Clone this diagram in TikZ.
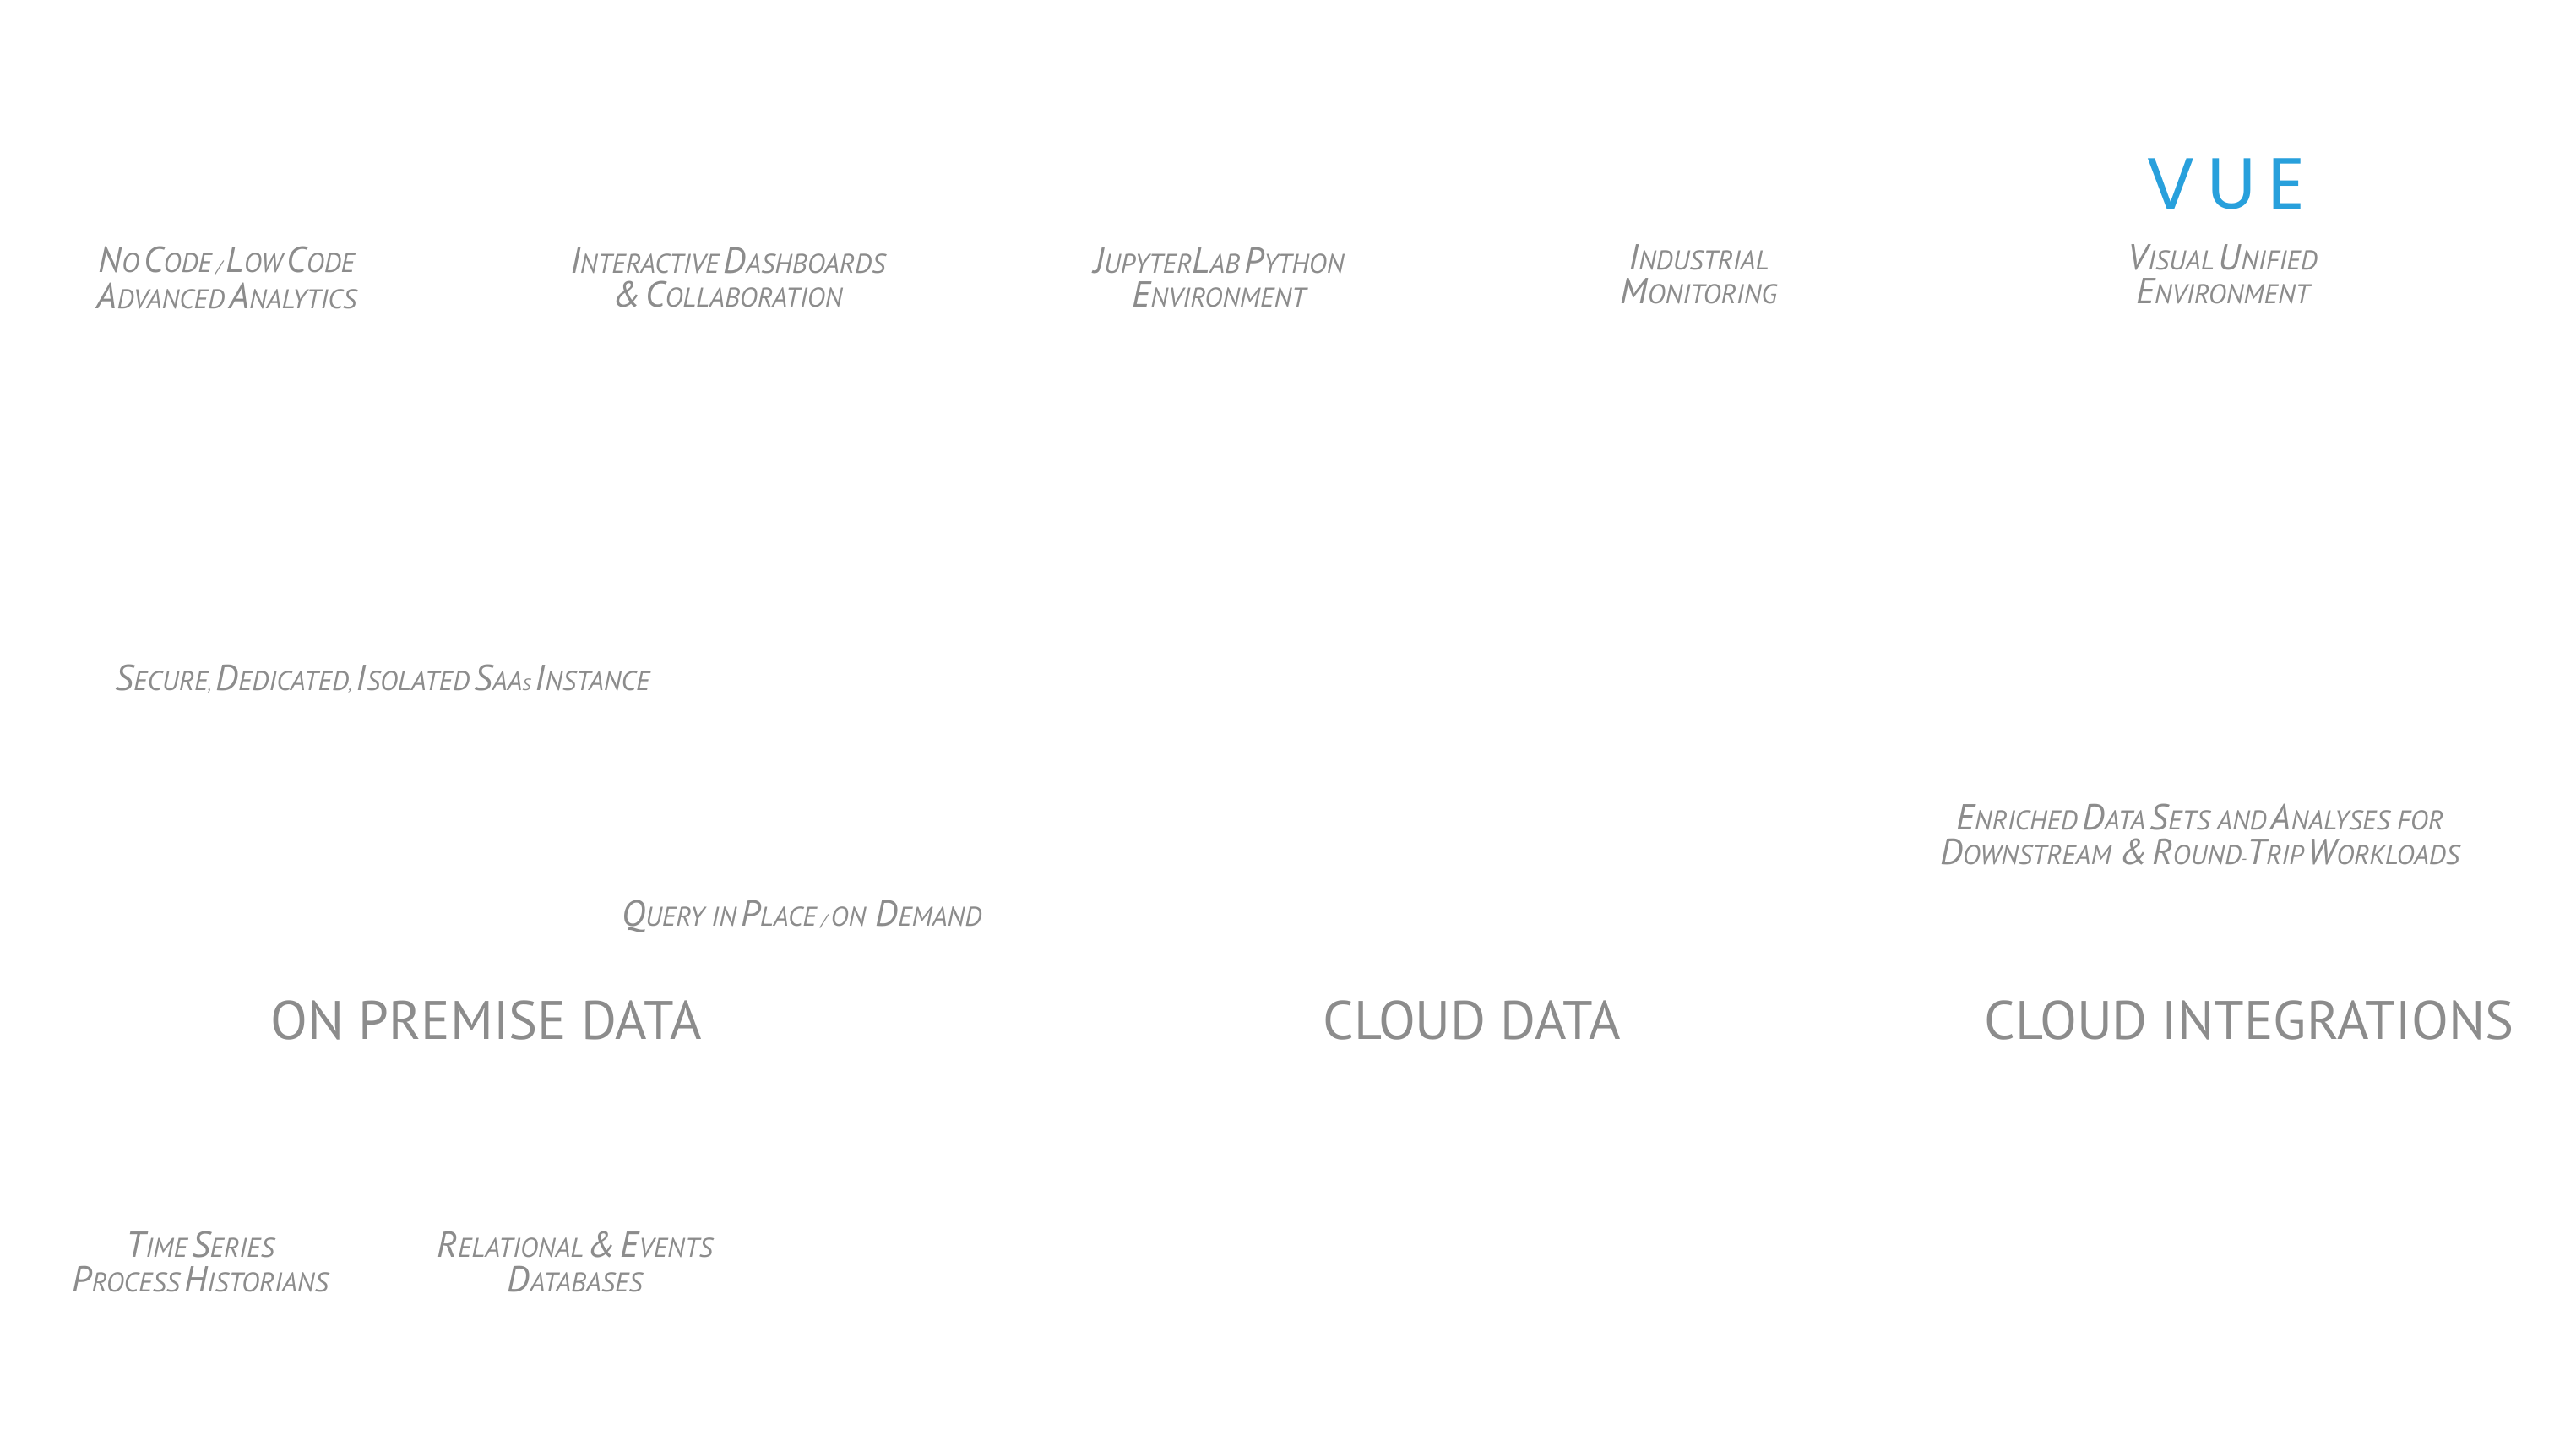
\documentclass[tikz,border=0pt]{standalone}
\usepackage{fontspec}
\setmainfont{PT Sans}
\newfontfamily\vuefont{Poppins}
\definecolor{tg}{RGB}{140,140,140}
\definecolor{vueblue}{RGB}{40,160,220}
\newcommand\sw[2]{{\fontsize{22}{22}\selectfont #1}{\fontsize{16.5}{16.5}\selectfont\MakeUppercase{#2}}}
\begin{document}
\begin{tikzpicture}[x=1pt,y=-1pt,
  lab/.style={text=tg,font=\itshape,align=center,inner sep=0pt},
  big/.style={text=tg,font=\fontsize{33}{33}\selectfont,inner sep=0pt}]
\useasboundingbox (0,0) rectangle (1568,880);
\node[lab] (nc) at (138,169) {\sw{N}{o} \sw{C}{ode} / \sw{L}{ow} \sw{C}{ode}\\[4pt]\sw{A}{dvanced} \sw{A}{nalytics}};
\node[lab] (id) at (443,169) {\sw{I}{nteractive} \sw{D}{ashboards}\\[4pt]\sw{\&}{} \sw{C}{ollaboration}};
\node[lab] (jl) at (742,169) {\sw{J}{upyter}\sw{L}{ab} \sw{P}{ython}\\[4pt]\sw{E}{nvironment}};
\node[lab] (im) at (1034,167) {\sw{I}{ndustrial}\\[4pt]\sw{M}{onitoring}};
\node[text=vueblue,font=\vuefont\fontsize{44}{44}\selectfont,inner sep=0pt] (vue) at (1355,112) {V\,U\,E};
\node[lab] (vu) at (1353,167) {\sw{V}{isual} \sw{U}{nified}\\[4pt]\sw{E}{nvironment}};
\node[lab,anchor=west] (sec) at (70,413) {\sw{S}{ecure}, \sw{D}{edicated}, \sw{I}{solated} \sw{S}{aa}S \sw{I}{nstance}};
\node[lab] (en) at (1339,508) {\sw{E}{nriched} \sw{D}{ata} \sw{S}{ets and} \sw{A}{nalyses for}\\[4pt]\sw{D}{ownstream}\ \ \sw{\&}{} \sw{R}{ound}-\sw{T}{rip} \sw{W}{orkloads}};
\node[lab] (q) at (488,558) {\sw{Q}{uery in} \sw{P}{lace} / \sw{{\fontsize{16.5}{16.5}\selectfont ON} D}{emand}};
\node[big] (op) at (296,621) {ON PREMISE DATA};
\node[big] (cd) at (896,621) {CLOUD DATA};
\node[big] (ci) at (1369,621) {CLOUD INTEGRATIONS};
\node[lab] (ts) at (122,768) {\sw{T}{ime} \sw{S}{eries}\\[4pt]\sw{P}{rocess} \sw{H}{istorians}};
\node[lab] (re) at (350,768) {\sw{R}{elational} \sw{\&}{} \sw{E}{vents}\\[4pt]\sw{D}{atabases}};
\end{tikzpicture}
\end{document}
